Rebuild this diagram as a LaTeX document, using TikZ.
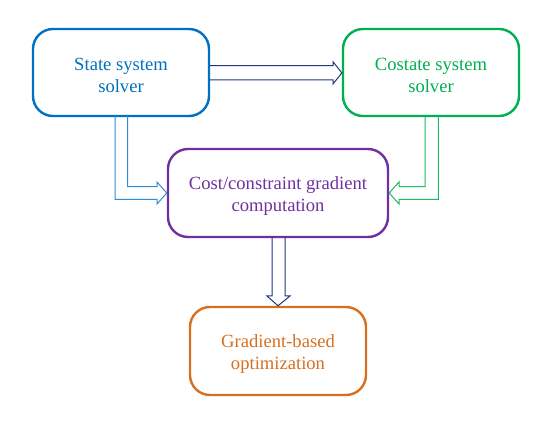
\documentclass[tikz,border=0pt]{standalone}
\usepackage{fontspec}
\setmainfont{Liberation Serif}
\definecolor{cblue}{RGB}{0,112,192}
\definecolor{cblueA}{RGB}{46,140,214}
\definecolor{cgreen}{RGB}{0,176,80}
\definecolor{cgreenA}{RGB}{30,185,100}
\definecolor{cpurple}{RGB}{112,48,160}
\definecolor{corange}{RGB}{214,112,32}
\definecolor{cnavy}{RGB}{31,56,120}
\begin{document}
\begin{tikzpicture}[x=1pt,y=-1pt,
  box/.style={draw,line width=2.4pt,rounded corners=20pt,inner sep=0pt},
  lbl/.style={align=center,font=\fontsize{18.6}{21.5}\selectfont,inner sep=0pt,yshift=-3pt},
  harrow/.style={line width=1pt,line join=miter}]
\useasboundingbox (0,0) rectangle (554,435);
\node[box,draw=cblue,minimum width=176pt,minimum height=87pt] (st) at (121,72.5) {};
\node[lbl,text=cblue] (stt) at (st.center) {State system\\solver};
\node[box,draw=cgreen,minimum width=176pt,minimum height=87pt] (co) at (431,72.5) {};
\node[lbl,text=cgreen] (cot) at (co.center) {Costate system\\solver};
\node[box,draw=cpurple,minimum width=220pt,minimum height=88pt] (cg) at (278,193) {};
\node[lbl,text=cpurple] (cgt) at (cg.center) {Cost/constraint gradient\\computation};
\node[box,draw=corange,minimum width=176pt,minimum height=88pt] (go) at (278,351) {};
\node[lbl,text=corange] (got) at (go.center) {Gradient-based\\optimization};
% top arrow
\draw[harrow,cnavy] (st.east |- 0,65.7) -- (333,65.7) -- (333,61.7) -- (co.west |- 0,72.9) -- (333,84) -- (333,80) -- (st.east |- 0,80);
% left arrow
\draw[harrow,cblueA] (115,116) -- (115,199.3) -- (157,199.3) -- (157,204) -- (cg.west |- 0,193) -- (157,182) -- (157,186.7) -- (127.5,186.7) -- (127.5,116);
% right arrow
\draw[harrow,cgreenA] (438.3,116) -- (438.3,199.3) -- (399,199.3) -- (399,204) -- (cg.east |- 0,193) -- (399,182) -- (399,186.7) -- (425,186.7) -- (425,116);
% bottom arrow
\draw[harrow,cnavy] (272,237) -- (272,296) -- (267,296) -- (go.north) -- (290,296) -- (285,296) -- (285,237);
\end{tikzpicture}
\end{document}
